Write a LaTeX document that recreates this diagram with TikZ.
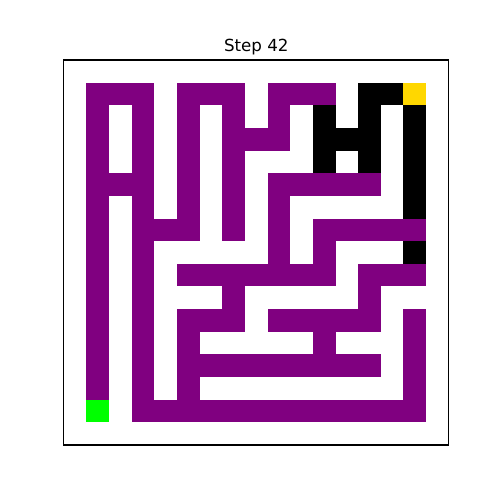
\documentclass[tikz,border=0pt]{standalone}
\usepackage{fontspec}
\setmainfont{DejaVu Sans}
\definecolor{mzpurple}{RGB}{128,0,128}
\definecolor{mzgold}{RGB}{255,215,0}
\definecolor{mzlime}{RGB}{0,255,0}
\begin{document}
\begin{tikzpicture}[x=16.306pt,y=-16.306pt,
  pw/.style={fill=mzpurple},
  bk/.style={fill=black},
  frame/.style={draw=black,line width=0.8pt}]
\useasboundingbox (-2.815,-2.649) rectangle (19.263,19.429);
% purple runs: row/first/last
\foreach \r/\a/\b in {1/1/3,1/5/7,1/9/11,
  2/1/1,2/3/3,2/5/5,2/7/7,2/9/9,
  3/1/1,3/3/3,3/5/5,3/7/9,
  4/1/1,4/3/3,4/5/5,4/7/7,
  5/1/3,5/5/5,5/7/7,5/9/13,
  6/1/1,6/3/3,6/5/5,6/7/7,6/9/9,
  7/1/1,7/3/5,7/7/7,7/9/9,7/11/15,
  8/1/1,8/3/3,8/9/9,8/11/11,
  9/1/1,9/3/3,9/5/11,9/13/15,
  10/1/1,10/3/3,10/7/7,10/13/13,
  11/1/1,11/3/3,11/5/7,11/9/13,11/15/15,
  12/1/1,12/3/3,12/5/5,12/11/11,12/15/15,
  13/1/1,13/3/3,13/5/13,13/15/15,
  14/1/1,14/3/3,14/5/5,14/15/15,
  15/3/15}
  { \path[pw] (\a,\r) rectangle ({\b+1},{\r+1}); }
% black runs
\foreach \r/\a/\b in {1/13/14,2/11/11,2/13/13,2/15/15,
  3/11/13,3/15/15,4/11/11,4/13/13,4/15/15,
  5/15/15,6/15/15,8/15/15}
  { \path[bk] (\a,\r) rectangle ({\b+1},{\r+1}); }
\path[fill=mzgold] (15,1) rectangle (16,2);
\path[fill=mzlime] (1,15) rectangle (2,16);
\draw[frame] (0,0) rectangle (17,17);
\node (title) [anchor=base,inner sep=0pt,font=\fontsize{12}{14}\selectfont] at (8.5,-0.366) {Step 42};
\end{tikzpicture}
\end{document}
